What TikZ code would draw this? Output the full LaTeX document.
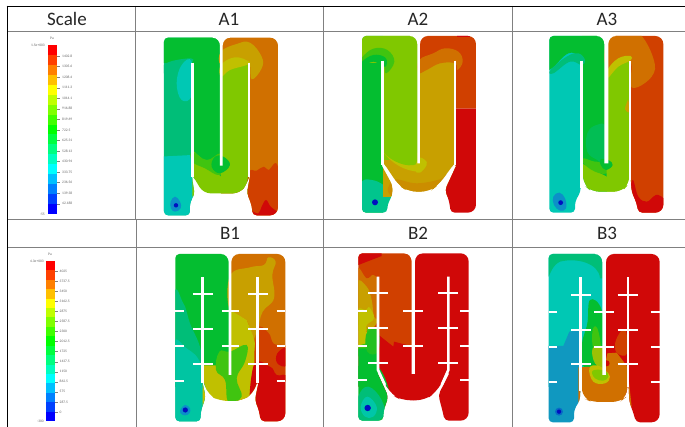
\documentclass[tikz,border=0pt]{standalone}
\usepackage{fontspec}
\setmainfont{Carlito}
\newcommand{\blob}[2]{\fill[#1] plot[smooth cycle,tension=.7] coordinates {#2};}
\newcommand{\band}[2]{\fill[#1] #2 -- cycle;}
\definecolor{cTeal}{HTML}{00C8B4}
\definecolor{cTG}{HTML}{00BE78}
\definecolor{cG}{HTML}{04BE30}
\definecolor{cLG}{HTML}{40C410}
\definecolor{cL}{HTML}{80C800}
\definecolor{cY}{HTML}{C0C000}
\definecolor{cAm}{HTML}{C8A000}
\definecolor{cOr}{HTML}{D07000}
\definecolor{cRO}{HTML}{D04000}
\definecolor{cR}{HTML}{D00808}
\definecolor{cSky}{HTML}{1098C0}
\definecolor{cBlueA}{HTML}{0C90C8}
\definecolor{cBlueB}{HTML}{0010C0}
\tikzset{
  gridline/.style={draw=black!50,line width=.8pt},
  heavyline/.style={draw=black,line width=1.6pt},
  head/.style={font=\fontsize{19}{19}\selectfont,text=black!85,inner sep=0pt,anchor=base},
  slot/.style={draw=white,line width=2.6pt},
  cross/.style={draw=white,line width=2pt},
  tinylabel/.style={font=\fontsize{3.6}{4}\selectfont,text=black!60,inner sep=0pt},
  tick/.style={draw=black!50,line width=.25pt}
}
\newcommand{\notch}[4]{% x1 x2 ytop yend : white gap between the two upper lobes
  \fill[white] (#1-22,#3-4) -- (#1-22,#3) to[out=0,in=90] (#1,#3+24) -- (#1,#4) -- (#2,#4) -- (#2,#3+24) to[out=90,in=180] (#2+22,#3) -- (#2+22,#3-4) -- cycle;}
\newcommand{\colorbar}[4]{% x width ytop ybottom
  \foreach \c [count=\i from 0] in {FF0000,FF4000,FF8000,FFC000,FFFF00,C0FF00,80FF00,40FF00,00FF00,00FF40,00FF80,00FFC0,00FFFF,00C0FF,0080FF,0040FF,0000FF}{
    \definecolor{barc}{HTML}{\c}
    \pgfmathsetmacro{\ya}{#3+(#4-#3)*\i/17}
    \pgfmathsetmacro{\yb}{#3+(#4-#3)*(\i+1)/17+.2}
    \fill[barc] (#1,\ya) rectangle (#1+#2,\yb);
  }}
\begin{document}
\begin{tikzpicture}[x=1pt,y=-1pt]
\useasboundingbox[fill=white] (0,0) rectangle (685,427);

% ---------- table ----------
\draw[gridline] (7,31.5) -- (685,31.5);
\draw[gridline] (7,219) -- (685,219);
\draw[gridline] (7,247) -- (685,247);
\draw[gridline] (135,6) -- (135,219);
\draw[gridline] (136.5,219) -- (136.5,427);
\draw[gridline] (323,6) -- (323,427);
\draw[gridline] (512,6) -- (512,427);
\draw[heavyline] (6.5,6.5) -- (685,6.5);
\draw[heavyline] (7.5,5.7) -- (7.5,427);

\node[head] (hScale) at (67,26) {Scale};
\node[head] (hA1) at (229,26) {A1};
\node[head] (hA2) at (418,26) {A2};
\node[head] (hA3) at (607,26) {A3};
\node[head] (hB1) at (230,240) {B1};
\node[head] (hB2) at (418,240) {B2};
\node[head] (hB3) at (607,240) {B3};

% ---------- colour bars ----------
\colorbar{48}{9}{45}{214}
\colorbar{46}{8.5}{261}{421}
\foreach \t [count=\i from 0] in {1402.8,1305.6,1208.4,1111.3,1014.1,916.88,819.69,722.5,625.31,528.13,430.94,333.75,236.56,139.38,42.188}{
  \pgfmathsetmacro{\yy}{56+10.55*\i}
  \draw[tick] (57,\yy) -- (60,\yy);
  \node[tinylabel,anchor=west] (la\i) at (62,\yy) {\t};
}
\node[tinylabel] (pa1) at (52,38.5) {Pa};
\node[tinylabel,anchor=east] (amax) at (45,45) {1.5e+003};
\node[tinylabel,anchor=east] (amin) at (45,214) {-55};
\foreach \t [count=\i from 0] in {4025,3737.5,3450,3162.5,2875,2587.5,2300,2012.5,1725,1437.5,1150,862.5,575,287.5,0}{
  \pgfmathsetmacro{\yy}{271+10.07*\i}
  \draw[tick] (54.5,\yy) -- (57.5,\yy);
  \node[tinylabel,anchor=west] (lb\i) at (59.5,\yy) {\t};
}
\node[tinylabel] (pa2) at (50,254) {Pa};
\node[tinylabel,anchor=east] (bmax) at (44,261) {4.3e+003};
\node[tinylabel,anchor=east] (bmin) at (44,421) {-300};

% ---------- A1 ----------
\begin{scope}[shift={(140,20)},x=.3333pt,y=-.3333pt]
\begin{scope}
\clip[rounded corners=8pt] (200,53) -- (414,53) -- (414,586) [rounded corners=4pt] -- (338,586) -- (335,555) -- (321,520) [sharp corners] -- (330,470) -- (327,470) [rounded corners=7pt] -- (322,490) -- (300,520) -- (190,520) [sharp corners] -- (160,470) -- (156,470) [rounded corners=4pt] -- (164,525) -- (150,545) -- (150,586) -- (72,586) -- (72,53) [rounded corners=8pt] -- cycle;
\band{cTG}{(60,40) -- (157,40) -- (157,600) -- (60,600)}
\band{cG}{(60,40) -- (243,40) -- (243,130) -- (60,130)}
\band{cG}{(157,40) -- (243,40) -- (243,480) -- (157,480)}
\blob{cTG}{(72,135) (110,120) (160,118) (125,150) (70,160)}
\blob{cTeal}{(125,135) (155,125) (155,225) (125,240) (110,190)}
\band{cTeal}{(60,410) -- (157,405) -- (170,600) -- (60,600)}
\band{cL}{(157,390) -- (243,470) -- (340,470) -- (340,530) -- (157,530)}
\blob{cLG}{(157,395) (200,420) (243,400) (270,430) (240,465) (195,445) (157,425)}
\band{cOr}{(243,40) -- (420,40) -- (420,600) -- (243,600)}
\band{cL}{(243,150) -- (327,120) -- (327,530) -- (243,530)}
\blob{cG}{(225,410) (250,410) (270,435) (240,460) (215,440)}
\blob{cAm}{(243,95) (290,72) (330,68) (365,110) (365,145) (335,178) (327,130) (290,130) (243,135)}
\blob{cY}{(243,135) (285,112) (327,125) (320,135) (270,150) (243,170)}
\blob{cRO}{(325,465) (350,452) (372,440) (385,450) (414,440) (425,600) (325,600)}
\blob{cR}{(365,560) (378,540) (392,560) (414,580) (400,600) (340,600) (335,575) (355,580)}
\end{scope}
\notch{240}{248}{53}{437}
\draw[slot] (157,128) -- (157,472);
\draw[slot] (327,128) -- (327,472);
\blob{cBlueA}{(92,545) (105,530) (120,545) (122,565) (105,575) (93,565)}
\fill[cBlueB] (108,556) circle (2.2pt);
\end{scope}

% ---------- A2 ----------
\begin{scope}[shift={(330,20)},x=.3333pt,y=-.3333pt]
\begin{scope}
\clip[rounded corners=8pt] (200,48) -- (438,48) -- (438,578) [rounded corners=4pt] -- (362,578) -- (358,545) -- (345,510) [sharp corners] -- (378,438) -- (372,432) [rounded corners=9pt] -- (325,495) -- (298,515) -- (235,515) -- (205,495) [sharp corners] -- (163,432) -- (155,436) [rounded corners=4pt] -- (187,495) -- (187,525) -- (172,555) -- (172,578) -- (96,578) -- (96,48) [rounded corners=8pt] -- cycle;
\band{cG}{(80,40) -- (160,40) -- (160,600) -- (80,600)}
\band{cL}{(80,40) -- (266,40) -- (266,130) -- (80,130)}
\band{cL}{(158,40) -- (266,40) -- (266,440) -- (158,440)}
\blob{cLG}{(96,112) (130,86) (172,90) (193,125) (168,160) (160,130) (128,115) (92,125)}
\blob{cG}{(96,125) (130,105) (165,112) (170,135) (158,140) (130,125) (94,140)}
\blob{cTeal!70!cG}{(96,485) (125,480) (160,495) (190,530) (175,590) (96,590) (90,530)}
\band{cAm}{(158,420) -- (380,420) -- (380,530) -- (158,530)}
\fill[cY] (158,395) .. controls (185,430) and (225,455) .. (270,455) -- (270,400) -- (158,380) -- cycle;
\fill[cL] (158,395) .. controls (185,425) and (230,445) .. (262,432) -- (262,380) -- (158,380) -- cycle;
\blob{cAm!60!cOr}{(190,480) (260,490) (330,478) (350,465) (340,530) (190,530)}
\band{cAm}{(266,130) -- (375,120) -- (375,440) -- (266,440)}
\blob{cY}{(266,415) (285,420) (290,435) (270,458) (255,450)}
\band{cRO}{(266,40) -- (450,40) -- (450,266) -- (375,266) -- (375,110) -- (266,130)}
\blob{cOr}{(268,120) (310,100) (345,85) (385,95) (398,125) (382,150) (375,130) (330,130) (290,150) (266,158)}
\band{cR}{(375,266) -- (450,266) -- (450,600) -- (340,600) -- (340,500) -- (375,432)}
\fill[cR] (380,40) rectangle (420,52);
\end{scope}
\notch{262}{270}{48}{430}
\draw[slot] (158,122) -- (158,434);
\draw[slot] (375,122) -- (375,434);
\fill[cBlueB] (135,547) circle (3pt);
\end{scope}

% ---------- A3 ----------
\begin{scope}[shift={(510,20)},x=.3333pt,y=-.3333pt]
\begin{scope}
\clip[rounded corners=8pt] (200,48) -- (460,48) -- (460,578) [rounded corners=4pt] -- (385,578) -- (380,550) -- (365,515) [sharp corners] -- (362,470) -- (358,470) [rounded corners=8pt] -- (358,490) -- (335,515) -- (245,515) -- (222,495) [sharp corners] -- (219,470) -- (212,470) [rounded corners=4pt] -- (212,515) -- (195,545) -- (195,578) -- (118,578) -- (118,48) [rounded corners=8pt] -- cycle;
\band{cTeal}{(100,40) -- (215,40) -- (215,600) -- (100,600)}
\band{cG}{(215,40) -- (290,40) -- (290,520) -- (215,520)}
\blob{cG}{(110,30) (290,30) (290,130) (215,110) (175,100) (125,145) (105,140)}
\blob{cTG}{(122,150) (170,110) (205,100) (225,120) (215,135) (180,125) (130,160)}
\blob{cBlueA}{(130,530) (148,518) (165,535) (168,565) (150,572) (132,555)}
\band{cL}{(215,430) -- (290,470) -- (370,470) -- (370,530) -- (215,530)}
\blob{cLG}{(220,415) (255,425) (290,425) (310,435) (290,460) (255,455) (220,430)}
\blob{cTG!50!cG}{(232,340) (260,315) (288,325) (288,430) (262,420) (232,395)}
\band{cL}{(290,130) -- (360,120) -- (360,530) -- (290,530)}
\blob{cG}{(272,418) (295,420) (308,435) (288,450) (272,435)}
\band{cRO}{(290,40) -- (470,40) -- (470,600) -- (360,600) -- (360,120)}
\blob{cOr}{(290,60) (330,38) (385,38) (430,115) (425,170) (365,202) (360,125) (292,148)}
\blob{cY}{(292,150) (325,115) (362,108) (360,122) (325,140) (292,175)}
\blob{cAm}{(350,250) (355,240) (358,275) (345,268)}
\blob{cR}{(368,480) (385,530) (410,545) (430,530) (445,525) (465,545) (465,600) (375,600) (360,540)}
\end{scope}
\notch{283}{295}{48}{430}
\draw[slot] (215,122) -- (215,505);
\draw[slot] (360,122) -- (360,480);
\fill[cBlueB] (152,548) circle (2.4pt);
\end{scope}

% ---------- B1 ----------
\begin{scope}[shift={(140,220)},x=.3333pt,y=-.3333pt]
\begin{scope}
\clip[rounded corners=8pt] (200,102) -- (436,102) -- (436,604) [rounded corners=4pt] -- (362,604) -- (358,575) -- (345,540) [sharp corners] -- (355,490) -- (350,490) [rounded corners=8pt] -- (340,520) -- (305,543) -- (240,543) -- (205,525) [sharp corners] -- (192,488) -- (187,488) [rounded corners=4pt] -- (197,530) -- (182,575) -- (182,604) -- (106,604) -- (106,102) [rounded corners=8pt] -- cycle;
\band{cG}{(100,90) -- (270,90) -- (270,500) -- (100,500)}
\blob{cTG}{(100,240) (130,250) (150,310) (188,420) (188,620) (95,620)}
\blob{cTeal!70!cTG}{(95,380) (140,385) (188,450) (200,620) (95,620)}
\band{cOr}{(270,90) -- (450,90) -- (450,620) -- (270,620)}
\blob{cAm}{(270,168) (330,142) (372,135) (385,112) (407,125) (397,165) (402,235) (368,275) (352,330) (335,360) (320,300) (270,275)}
\band{cY}{(270,270) -- (320,300) -- (340,350) -- (352,400) -- (352,560) -- (188,560) -- (188,436) -- (270,436)}
\blob{cLG}{(238,395) (270,395) (320,375) (315,425) (290,475) (305,530) (265,545) (255,480) (228,450)}
\blob{cRO}{(352,330) (385,338) (402,372) (440,385) (440,480) (352,470)}
\blob{cR}{(340,440) (390,440) (410,465) (445,480) (445,620) (340,620)}
\blob{cR}{(412,400) (440,385) (440,436) (412,430)}
\end{scope}
\notch{266}{274}{102}{465}
\draw[slot] (188,172) -- (188,490);
\draw[slot] (352,172) -- (352,490);
\foreach \y in {222,327,432}{\draw[cross] (159,\y) -- (218,\y); \draw[cross] (325,\y) -- (383,\y);}
\foreach \y in {274,379}{\draw[cross] (246,\y) -- (296,\y);}
\foreach \y in {274,379,483}{\draw[cross] (106,\y) -- (132,\y); \draw[cross] (410,\y) -- (436,\y);}
\blob{cBlueA}{(122,568) (135,555) (150,565) (148,580) (135,586) (122,580)}
\fill[cBlueB] (136,570) circle (2.6pt);
\end{scope}

% ---------- B2 ----------
\begin{scope}[shift={(330,220)},x=.3333pt,y=-.3333pt]
\begin{scope}
\clip[rounded corners=8pt] (200,100) -- (416,100) -- (416,602) [rounded corners=4pt] -- (344,602) -- (338,575) -- (325,525) [sharp corners] -- (358,460) -- (352,460) [rounded corners=9pt] -- (320,515) -- (285,541) -- (215,541) -- (185,525) [sharp corners] -- (147,460) -- (143,460) [rounded corners=4pt] -- (175,530) -- (160,575) -- (160,602) -- (85,602) -- (85,100) [rounded corners=8pt] -- cycle;
\band{cRO}{(70,90) -- (250,90) -- (250,500) -- (70,500)}
\band{cR}{(146,345) -- (190,380) -- (192,365) -- (250,380) -- (250,560) -- (146,560)}
\band{cR}{(146,380) -- (190,385) -- (190,450) -- (146,450)}
\band{cR}{(250,90) -- (430,90) -- (430,620) -- (250,620)}
\band{cR}{(70,90) -- (155,90) -- (155,108) -- (85,135)}
\blob{cOr}{(80,150) (110,175) (130,165) (144,190) (144,290) (120,315) (80,300)}
\blob{cAm}{(80,190) (110,200) (125,240) (132,290) (144,300) (120,330) (80,320)}
\blob{cY}{(80,275) (108,270) (118,262) (132,295) (108,320) (115,365) (80,380)}
\band{cLG}{(80,378) -- (110,370) -- (112,325) -- (144,330) -- (144,400) -- (80,410)}
\band{cG}{(80,385) -- (144,385) -- (144,470) -- (80,500)}
\blob{cLG!50!cG}{(144,330) (144,395) (112,395) (110,340)}
\blob{cG}{(70,440) (100,450) (144,440) (180,530) (165,620) (70,620)}
\blob{cTG}{(85,530) (115,500) (155,540) (160,590) (110,610) (85,590)}
\blob{cTeal!80!cTG}{(92,560) (112,530) (140,560) (130,590) (105,590)}
\end{scope}
\notch{245}{255}{100}{462}
\draw[slot] (144,170) -- (144,450) -- (165,495);
\draw[slot] (355,170) -- (355,450) -- (335,495);
\foreach \y in {220,325,429}{\draw[cross] (115,\y) -- (175,\y); \draw[cross] (325,\y) -- (385,\y);}
\foreach \y in {272,377}{\draw[cross] (220,\y) -- (280,\y);}
\foreach \y in {272,377,481}{\draw[cross] (85,\y) -- (110,\y); \draw[cross] (391,\y) -- (416,\y);}
\fill[cBlueB] (113,564) circle (3.2pt);
\end{scope}

% ---------- B3 ----------
\begin{scope}[shift={(510,220)},x=.3333pt,y=-.3333pt]
\begin{scope}
\clip[rounded corners=8pt] (200,102) -- (449,102) -- (449,607) [rounded corners=4pt] -- (378,607) -- (372,585) -- (358,545) [sharp corners] -- (356,500) -- (352,500) [rounded corners=8pt] -- (350,530) -- (330,546) -- (245,546) -- (220,535) [sharp corners] -- (216,510) -- (211,510) [rounded corners=4pt] -- (210,540) -- (192,570) -- (192,607) -- (116,607) -- (116,102) [rounded corners=8pt] -- cycle;
\band{cTeal}{(100,90) -- (283,90) -- (283,500) -- (100,500)}
\fill[cTG] (100,90) -- (285,90) -- (285,175) -- (270,175) .. controls (268,130) and (200,112) .. (150,125) .. controls (130,135) and (125,150) .. (116,170) -- (100,170) -- cycle;
\band{cSky}{(100,378) -- (160,378) -- (178,335) -- (212,330) -- (212,620) -- (100,620)}
\band{cR}{(283,90) -- (460,90) -- (460,620) -- (345,620) -- (345,500) -- (283,500)}
\blob{cG}{(240,240) (275,270) (284,380) (272,440) (240,448) (216,430) (216,370) (232,310)}
\blob{cLG}{(248,330) (262,325) (272,385) (250,385)}
\blob{cY!70!cLG}{(248,385) (280,385) (284,440) (255,430)}
\band{cOr}{(205,442) -- (250,440) -- (283,445) -- (292,400) -- (320,398) -- (352,440) -- (365,560) -- (205,560)}
\blob{cRO}{(318,360) (345,328) (352,400) (320,398)}
\blob{cY}{(238,445) (262,436) (284,450) (300,470) (285,490) (250,485)}
\blob{cL}{(248,452) (284,452) (295,470) (280,482) (255,475)}
\fill[cR] (290,430) circle (3pt);
\end{scope}
\notch{277}{288}{102}{465}
\draw[slot] (212,172) -- (212,512);
\draw[slot] (354,172) -- (354,502);
\foreach \y in {224,329,433}{\draw[cross] (183,\y) -- (242,\y); \draw[cross] (323,\y) -- (383,\y);}
\foreach \y in {276,381}{\draw[cross] (253,\y) -- (313,\y);}
\foreach \y in {276,381,485}{\draw[cross] (116,\y) -- (142,\y); \draw[cross] (423,\y) -- (449,\y);}
\fill[cBlueA!70!cBlueB] (147,575) circle (4pt);
\fill[cBlueB] (147,575) circle (2.2pt);
\end{scope}
\end{tikzpicture}
\end{document}
